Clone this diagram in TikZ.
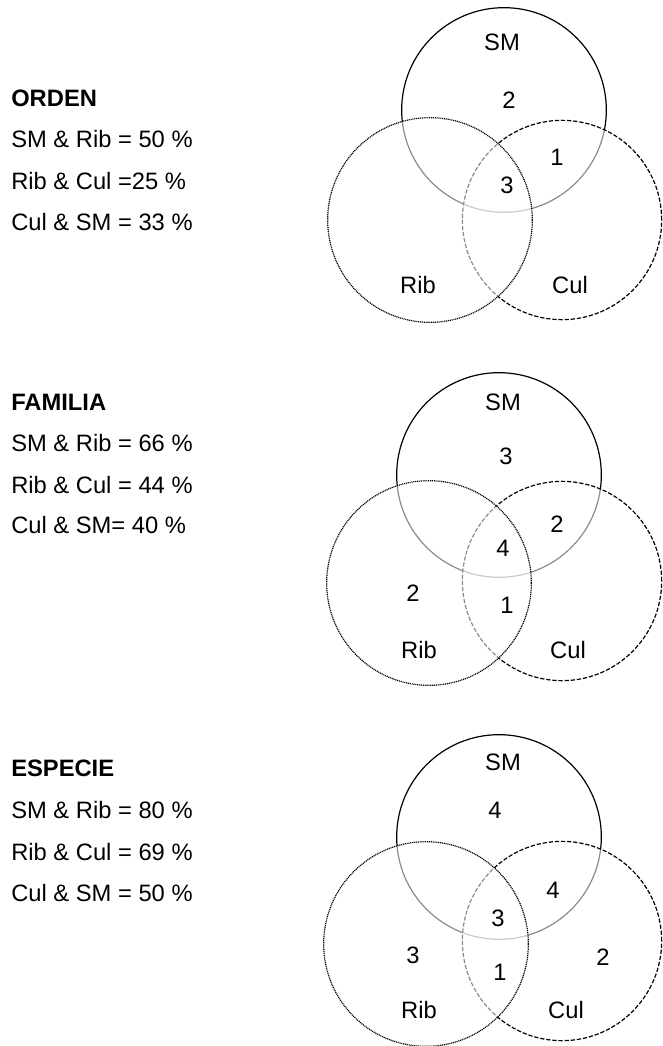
\documentclass[tikz,border=0pt]{standalone}
\usepackage{fontspec}
\setmainfont{Liberation Sans}
\usetikzlibrary{positioning}

\begin{document}
\begin{tikzpicture}[x=0.75pt,y=-0.75pt]
		\tikzstyle{setring}=[circle,draw=black,line width=0.9pt,inner sep=0pt,outer sep=0pt,fill=white,fill opacity=0.55,draw opacity=1]
		\tikzstyle{smset}=[setring,minimum size=153.5pt]
		\tikzstyle{ribset}=[setring,minimum size=153.5pt,dash pattern=on 0.8pt off 0.6pt]
		\tikzstyle{culset}=[setring,minimum size=149.5pt,dash pattern=on 3.2pt off 1.4pt]
		\tikzstyle{caption}=[anchor=west,inner sep=0pt,font=\fontsize{17.8}{21}\selectfont]
		\tikzstyle{title}=[caption,font=\fontsize{17.8}{21}\selectfont\bfseries]
		\tikzstyle{count}=[inner sep=0pt,font=\fontsize{17.8}{21}\selectfont]

		\useasboundingbox (0,0) rectangle (662,1046);

		\node[title] (orden) at (11,98) {ORDEN};
		\node[caption] (ordsr) at (11,139) {SM \& Rib = 50 \%};
		\node[caption] (ordrc) at (11,181) {Rib \& Cul =25 \%};
		\node[caption] (ordcs) at (11,222) {Cul \& SM = 33 \%};

		\node[smset] (sma) at (504,110) {};
		\node[culset] (cula) at (562,220) {};
		\node[ribset] (riba) at (430,220) {};
		\node[count] (smalab) at (502,42) {SM};
		\node[count] (ribalab) at (418,285) {Rib};
		\node[count] (culalab) at (570,285) {Cul};
		\node[count] (na1) at (509,100) {2};
		\node[count] (na2) at (557,157) {1};
		\node[count] (na3) at (507,185) {3};

		\node[title] (familia) at (11,402) {FAMILIA};
		\node[caption] (famsr) at (11,443) {SM \& Rib = 66 \%};
		\node[caption] (famrc) at (11,485) {Rib \& Cul = 44 \%};
		\node[caption] (famcs) at (11,525) {Cul \& SM= 40 \%};

		\node[smset] (smb) at (499,475) {};
		\node[culset] (culb) at (562,581) {};
		\node[ribset] (ribb) at (429,583) {};
		\node[count] (smblab) at (503,402) {SM};
		\node[count] (ribblab) at (419,650) {Rib};
		\node[count] (culblab) at (568,650) {Cul};
		\node[count] (nb1) at (506,456) {3};
		\node[count] (nb2) at (557,524) {2};
		\node[count] (nb3) at (503,548) {4};
		\node[count] (nb4) at (413,593) {2};
		\node[count] (nb5) at (507,605) {1};

		\node[title] (especie) at (11,768) {ESPECIE};
		\node[caption] (espsr) at (11,810) {SM \& Rib = 80 \%};
		\node[caption] (esprc) at (11,852) {Rib \& Cul = 69 \%};
		\node[caption] (espcs) at (11,893) {Cul \& SM = 50 \%};

		\node[smset] (smc) at (499,837) {};
		\node[culset] (culc) at (562,941) {};
		\node[ribset] (ribc) at (426,944) {};
		\node[count] (smclab) at (503,762) {SM};
		\node[count] (ribclab) at (419,1010) {Rib};
		\node[count] (culclab) at (566,1010) {Cul};
		\node[count] (nc1) at (495,810) {4};
		\node[count] (nc2) at (553,890) {4};
		\node[count] (nc3) at (498,918) {3};
		\node[count] (nc4) at (413,955) {3};
		\node[count] (nc5) at (603,957) {2};
		\node[count] (nc6) at (500,972) {1};
\end{tikzpicture}
\end{document}
